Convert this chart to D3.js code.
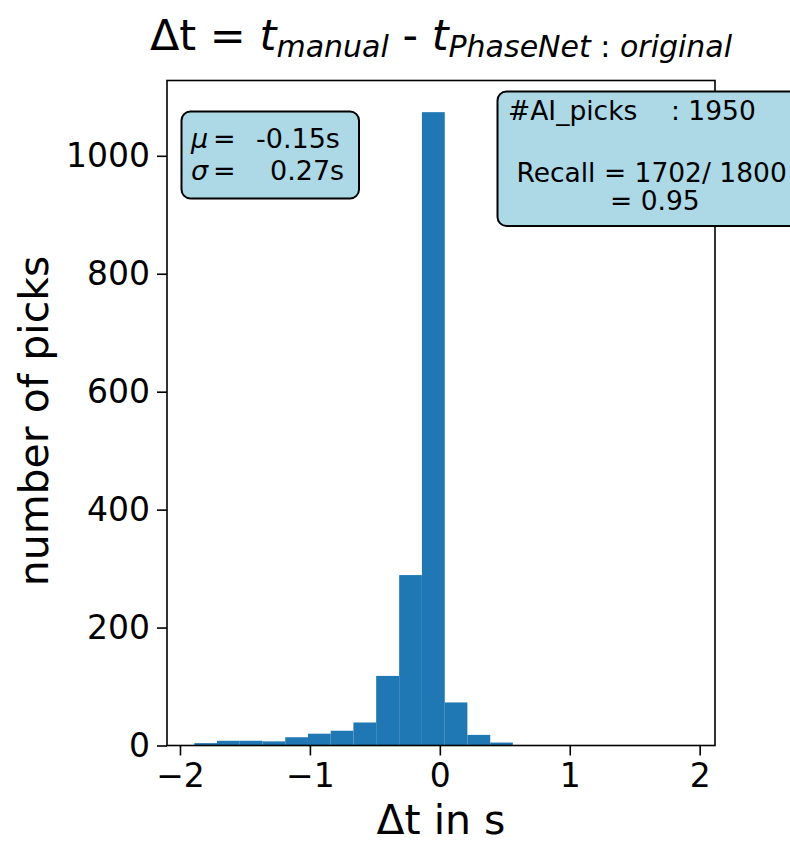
<!DOCTYPE html>
<html>
<head>
<meta charset="utf-8">
<script src="https://cdn.jsdelivr.net/npm/d3@7"></script>
<style>
  body { margin: 0; background: #fff; }
  svg { display: block; font-family: "DejaVu Sans", sans-serif; }
</style>
</head>
<body>
<svg width="790" height="841"></svg>
<script>
// histogram of pick time residuals (manual - PhaseNet)
var binEdges = [-1.89, -1.715, -1.54, -1.365, -1.19, -1.015, -0.84, -0.665, -0.49, -0.313, -0.138, 0.038, 0.212, 0.388, 0.562];
var counts = [4, 8, 8, 7, 14, 20, 25, 39, 118, 289, 1074, 73, 18, 5];
var xTicks = [-2, -1, 0, 1, 2];
var yTicks = [0, 200, 400, 600, 800, 1000];
var statSymbols = ['\u03bc', '\u03c3'];
var statValues = ['-0.15s', '0.27s'];
var pickLines = ['#AI_picks    : 1950', '', ' Recall = 1702/ 1800', '= 0.95'];

var svg = d3.select('svg');

var plot = { l: 167, r: 715, t: 80.5, b: 745.5 };

var bins = counts.map(function(c, i) {
    return { x0: binEdges[i], x1: binEdges[i + 1], n: c };
});

var xScale = d3.scaleLinear()
    .domain([-2.1, 2.118])
    .range([plot.l, plot.r]);

var yScale = d3.scaleLinear()
    .domain([0, d3.max(counts) * 1.05])
    .range([plot.b, plot.t]);

// bars
svg.append('g')
    .selectAll('rect')
    .data(bins)
    .enter()
    .append('rect')
    .attr('x', d => xScale(d.x0))
    .attr('width', d => xScale(d.x1) - xScale(d.x0))
    .attr('y', d => yScale(d.n))
    .attr('height', d => yScale(0) - yScale(d.n))
    .attr('fill', '#1f77b4');

// axes
var xAxis = d3.axisBottom(xScale)
    .tickValues(xTicks)
    .tickSize(10)
    .tickPadding(7)
    .tickFormat(d => d < 0 ? '\u2212' + Math.abs(d) : d);

var gx = svg.append('g')
    .attr('transform', 'translate(0,' + plot.b + ')')
    .call(xAxis);

var yAxis = d3.axisLeft(yScale)
    .tickValues(yTicks)
    .tickSize(10)
    .tickPadding(7)
    .tickFormat(d3.format('d'));

var gy = svg.append('g')
    .attr('transform', 'translate(' + plot.l + ',0)')
    .call(yAxis);

[gx, gy].forEach(function(g) {
    g.select('.domain').remove();
    g.selectAll('line').attr('stroke', '#000').attr('stroke-width', 1.6);
    g.selectAll('text')
        .attr('fill', '#000')
        .style('font-size', '33px')
        .style('font-family', '"DejaVu Sans", sans-serif');
});
gx.selectAll('text').attr('dy', '0.75em');

// frame
svg.append('rect')
    .attr('x', plot.l)
    .attr('y', plot.t)
    .attr('width', plot.r - plot.l)
    .attr('height', plot.b - plot.t)
    .attr('fill', 'none')
    .attr('stroke', '#000')
    .attr('stroke-width', 1.6);

// axis labels
svg.append('text')
    .attr('x', (plot.l + plot.r) / 2)
    .attr('y', 834)
    .attr('text-anchor', 'middle')
    .style('font-size', '41px')
    .text('\u0394t in s');

svg.append('text')
    .attr('transform', 'translate(48,' + 421 + ')rotate(-90)')
    .attr('text-anchor', 'middle')
    .style('font-size', '41px')
    .text('number of picks');

// title with subscripts
var title = svg.append('text')
    .attr('x', (plot.l + plot.r) / 2)
    .attr('y', 50)
    .attr('text-anchor', 'middle')
    .style('font-size', '43px')
    .style('white-space', 'pre');
title.append('tspan').text('\u0394t = ');
title.append('tspan').style('font-style', 'italic').text('t');
title.append('tspan').style('font-style', 'italic').style('font-size', '30px').attr('dy', 7).text('manual');
title.append('tspan').attr('dy', -7).text(' - ');
title.append('tspan').style('font-style', 'italic').text('t');
title.append('tspan').style('font-style', 'italic').style('font-size', '30px').attr('dy', 7).text('PhaseNet');
title.append('tspan').style('font-size', '30px').text(' : ');
title.append('tspan').style('font-style', 'italic').style('font-size', '30px').text('original');

// stats box
svg.append('rect')
    .attr('x', 181.5).attr('y', 111.5)
    .attr('width', 177.5).attr('height', 87)
    .attr('rx', 9)
    .attr('fill', '#add8e6')
    .attr('stroke', '#000')
    .attr('stroke-width', 2);

var st = svg.append('g').style('font-size', '27px');
statSymbols.forEach(function(s, i) {
    var t = st.append('text').attr('y', 148 + i * 32);
    t.append('tspan').attr('x', 191).style('font-style', 'italic').text(s);
    t.append('tspan').attr('x', 213).text('=');
    t.append('tspan').attr('x', i === 0 ? 256 : 270).text(statValues[i]);
});

// picks box (runs off the right edge)
svg.append('rect')
    .attr('x', 497.5).attr('y', 91.5)
    .attr('width', 310).attr('height', 134.5)
    .attr('rx', 9)
    .attr('fill', '#add8e6')
    .attr('stroke', '#000')
    .attr('stroke-width', 2);

var pt = svg.append('text')
    .style('font-size', '26.5px')
    .style('white-space', 'pre');
pickLines.forEach(function(s, i) {
    if (!s) return;
    pt.append('tspan')
        .attr('x', i === 3 ? 610 : 508)
        .attr('y', i === 3 ? 210 : 120 + i * 30.8)
        .text(s);
});
</script>
</body>
</html>
